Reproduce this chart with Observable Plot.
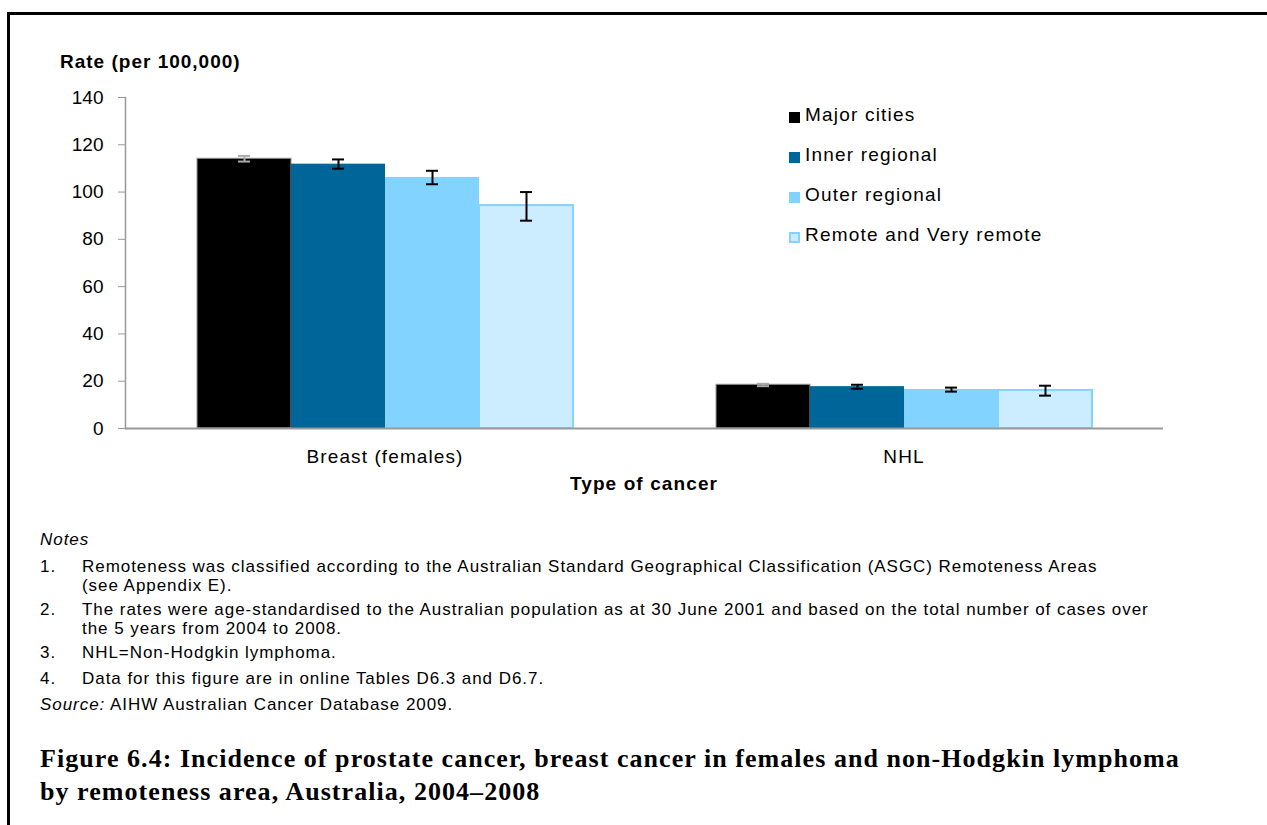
<!DOCTYPE html>
<html>
<head>
<meta charset="utf-8">
<script src="https://cdn.jsdelivr.net/npm/d3@7"></script>
<script src="https://cdn.jsdelivr.net/npm/@observablehq/plot@0.6"></script>
<style>
  html, body { margin: 0; padding: 0; background: #fff; }
  #page { position: relative; width: 1267px; height: 825px; overflow: hidden; font-family: "Liberation Sans", Arial, sans-serif; color: #000; }
  #frame { position: absolute; left: 7px; top: 12px; width: 1400px; height: 1000px; border: 3px solid #000; }
  #chart { position: absolute; left: 0; top: 0; }
  .abs { position: absolute; white-space: nowrap; }
  #ylabel { left: 60px; top: 51px; font-weight: bold; font-size: 19px; letter-spacing: 1px; }
  #xlabel { left: 0; width: 1288px; text-align: center; top: 473px; font-weight: bold; font-size: 19px; letter-spacing: 1.1px; }
  #legend { left: 789px; top: 104px; font-size: 19px; letter-spacing: 1.2px; }
  .lrow { height: 40px; display: flex; align-items: flex-start; }
  .sw { width: 11px; height: 11px; box-sizing: border-box; margin-top: 8px; margin-right: 5px; }
  #notes { left: 40px; top: 530px; font-size: 17px; letter-spacing: 0.95px; }
  .nitem { position: relative; padding-left: 42px; line-height: 19px; margin-bottom: 5px; }
  .nitem.single { margin-bottom: 7px; }
  .nnum { position: absolute; left: 0; top: 0; }
  #caption { left: 40px; top: 742px; font-family: "Liberation Serif", "DejaVu Serif", serif; font-weight: bold; font-size: 26px; line-height: 33px; letter-spacing: 1.05px; }
</style>
</head>
<body>
<div id="page">
  <div id="frame"></div>
  <div id="chart"></div>
  <div id="ylabel" class="abs"></div>
  <div id="xlabel" class="abs"></div>
  <div id="legend" class="abs"></div>
  <div id="notes" class="abs"></div>
  <div id="caption" class="abs"></div>
</div>
<script>
// ---- Data ----
const cancerTypes = ["Breast (females)", "NHL"];
const areas = ["Major cities", "Inner regional", "Outer regional", "Remote and Very remote"];
const breastRates = [114.1, 111.8, 106.2, 94.3];
const breastLow = [112.9, 109.9, 103.3, 87.9];
const breastHigh = [115.3, 113.8, 109.0, 100.0];
const nhlRates = [18.5, 17.7, 16.5, 16.1];
const nhlLow = [17.9, 16.8, 15.6, 13.9];
const nhlHigh = [18.9, 18.5, 17.3, 18.1];
const yTicks = [0, 20, 40, 60, 80, 100, 120, 140];

// ---- Styles ----
const fills = ["#000000", "#006699", "#82D3FF", "#CCECFF"];
const strokes = ["#999999", "#006699", "#82D3FF", "#82D3FF"];
const strokeWidths = [1, 0, 0, 2];
const errColors = ["#AAAAAA", "#000000", "#000000", "#000000"];

const ratesByType = [breastRates, nhlRates];
const lowByType = [breastLow, nhlLow];
const highByType = [breastHigh, nhlHigh];

const rows = [];
cancerTypes.forEach((t, ti) => areas.forEach((a, ai) => rows.push({
  type: t, area: a, value: ratesByType[ti][ai], lo: lowByType[ti][ai], hi: highByType[ti][ai]
})));

const barMarks = areas.map((a, i) => Plot.barY(rows.filter(d => d.area === a), {
  fx: "type", x: "area", y: "value", fill: fills[i],
  stroke: strokeWidths[i] ? strokes[i] : "none", strokeWidth: strokeWidths[i]
}));
const errMarks = areas.flatMap((a, i) => {
  const sub = rows.filter(d => d.area === a);
  return [
    Plot.ruleX(sub, {fx: "type", x: "area", y1: "lo", y2: "hi", stroke: errColors[i], strokeWidth: 2}),
    Plot.tickY(sub, {fx: "type", x: "area", y: "lo", stroke: errColors[i], strokeWidth: 2, insetLeft: 41, insetRight: 41}),
    Plot.tickY(sub, {fx: "type", x: "area", y: "hi", stroke: errColors[i], strokeWidth: 2, insetLeft: 41, insetRight: 41})
  ];
});

const chart = Plot.plot({
  width: 1267, height: 500,
  marginLeft: 125, marginRight: 104, marginTop: 97, marginBottom: 72,
  style: {fontFamily: "'Liberation Sans', Arial, sans-serif", fontSize: "19px", color: "#000", background: "transparent"},
  fx: {domain: cancerTypes, padding: 0, label: null},
  x: {domain: areas, paddingInner: 0, paddingOuter: 0.75, axis: null},
  y: {domain: [0, 140], label: null},
  marks: [
    ...barMarks,
    ...errMarks,
    Plot.ruleY([0], {stroke: "#999999", strokeWidth: 2}),
    Plot.frame({anchor: "left", stroke: "#999999", strokeWidth: 1.5, facetAnchor: "left"}),
    Plot.axisY({ticks: yTicks, tickSize: 7, tickPadding: 15, stroke: "#999999", fill: "#000", label: null, fontSize: 19}),
    Plot.axisFx({anchor: "bottom", tickSize: 0, tickPadding: 21, label: null, fontSize: 19, fill: "#000"})
  ]
});
d3.select(chart).selectAll("g[aria-label='fx-axis tick label'] text").style("letter-spacing", "1.1px");
document.getElementById("chart").appendChild(chart);

document.getElementById("ylabel").textContent = "Rate (per 100,000)";
document.getElementById("xlabel").textContent = "Type of cancer";

const legend = document.getElementById("legend");
areas.forEach((a, i) => {
  const row = document.createElement("div");
  row.className = "lrow";
  const sw = document.createElement("div");
  sw.className = "sw";
  sw.style.background = fills[i];
  if (i === 3) sw.style.border = "2px solid " + strokes[i];
  const tx = document.createElement("span");
  tx.textContent = a;
  row.appendChild(sw); row.appendChild(tx);
  legend.appendChild(row);
});

const noteItems = [
  ["1.", "Remoteness was classified according to the Australian Standard Geographical Classification (ASGC) Remoteness Areas<br>(see Appendix E)."],
  ["2.", "The rates were age-standardised to the Australian population as at 30 June 2001 and based on the total number of cases over<br>the 5 years from 2004 to 2008."],
  ["3.", "NHL=Non-Hodgkin lymphoma."],
  ["4.", "Data for this figure are in online Tables D6.3 and D6.7."]
];
const notes = document.getElementById("notes");
notes.innerHTML = '<div style="font-style:italic;line-height:19px;margin-bottom:8px">Notes</div>' +
  noteItems.map(([n, t]) => `<div class="nitem${t.includes("<br>") ? "" : " single"}"><span class="nnum">${n}</span>${t}</div>`).join("") +
  '<div style="line-height:19px"><i>Source:</i> AIHW Australian Cancer Database 2009.</div>';

document.getElementById("caption").innerHTML =
  "Figure 6.4: Incidence of prostate cancer, breast cancer in females and non-Hodgkin lymphoma<br>by remoteness area, Australia, 2004–2008";
</script>
</body>
</html>
